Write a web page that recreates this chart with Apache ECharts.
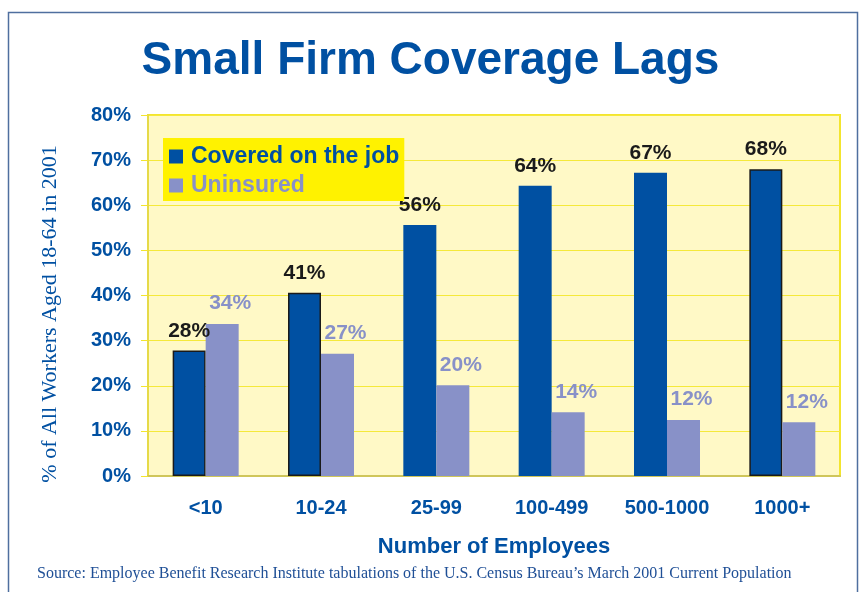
<!DOCTYPE html>
<html>
<head>
<meta charset="utf-8">
<script src="https://cdn.jsdelivr.net/npm/echarts@6/dist/echarts.min.js"></script>
<style>html,body{margin:0;padding:0;background:#fff;}#c{width:861px;height:592px;}</style>
</head>
<body>
<div id="c"></div>
<script>
const categories = ['<10', '10-24', '25-99', '100-499', '500-1000', '1000+'];
const covered = [27.8, 40.6, 55.6, 64.3, 67.2, 68.0];
const uninsured = [33.7, 27.1, 20.1, 14.1, 12.4, 11.9];
const seriesNames = ['Covered on the job', 'Uninsured'];
const yTicks = [0, 10, 20, 30, 40, 50, 60, 70, 80];

const BLUE = '#0050a2';
const LAV = '#8891c8';
const outlined = [0, 1, 5];

const chart = echarts.init(document.getElementById('c'));
chart.setOption({
  backgroundColor: '#ffffff',
  animation: false,
  title: {
    text: 'Small Firm Coverage Lags',
    left: 'center', top: 33,
    textStyle: { fontFamily: 'Arial', fontWeight: 'bold', fontSize: 46, color: BLUE }
  },
  legend: {
    orient: 'vertical', left: 163, top: 138,
    backgroundColor: '#fff200',
    padding: [7, 5, 4, 6], itemGap: 6,
    itemWidth: 14, itemHeight: 14, icon: 'rect',
    textStyle: { fontFamily: 'Arial', fontWeight: 'bold', fontSize: 23, padding: [0, 0, 0, 3] },
    data: [
      { name: seriesNames[0], textStyle: { color: BLUE } },
      { name: seriesNames[1], textStyle: { color: LAV } }
    ]
  },
  grid: {
    left: 148, right: 21, top: 115, bottom: 116,
    show: true, backgroundColor: '#fff9c6', borderColor: '#f3e52e', borderWidth: 2
  },
  xAxis: {
    type: 'category', data: categories,
    axisLine: { lineStyle: { color: '#cfc65a', width: 2 } },
    axisTick: { show: false },
    axisLabel: { color: BLUE, fontFamily: 'Arial', fontWeight: 'bold', fontSize: 20, margin: 22 },
    name: 'Number of Employees', nameLocation: 'middle', nameGap: 60,
    nameTextStyle: { color: BLUE, fontFamily: 'Arial', fontWeight: 'bold', fontSize: 22 }
  },
  yAxis: {
    type: 'value', min: yTicks[0], max: yTicks[yTicks.length - 1], interval: 10,
    axisLine: { show: true, lineStyle: { color: '#e6da48', width: 2 } },
    axisTick: { show: true, length: 7, lineStyle: { color: '#f3e52e' } },
    axisLabel: { formatter: '{value}%', color: BLUE, fontFamily: 'Arial', fontWeight: 'bold', fontSize: 20, margin: 17 },
    splitLine: { lineStyle: { color: '#f5e93a', width: 1 } }
  },
  series: [
    {
      name: seriesNames[0], type: 'bar', barWidth: 33, barGap: '0%',
      itemStyle: { color: BLUE },
      data: covered.map((v, i) => outlined.includes(i)
        ? { value: v, itemStyle: { borderColor: '#1a1a1a', borderWidth: 1.5 } }
        : v),
      label: {
        show: true, position: 'top', distance: 9,
        formatter: p => Math.round(p.value) + '%',
        color: '#1a1a1a', fontFamily: 'Arial', fontWeight: 'bold', fontSize: 21
      }
    },
    {
      name: seriesNames[1], type: 'bar', barWidth: 33,
      itemStyle: { color: LAV },
      data: uninsured,
      label: {
        show: true, position: 'top', distance: 10, offset: [8, 0],
        formatter: p => Math.round(p.value) + '%',
        color: LAV, fontFamily: 'Arial', fontWeight: 'bold', fontSize: 21
      }
    }
  ],
  graphic: [
    {
      type: 'rect', silent: true, z: -1,
      shape: { x: 8.5, y: 12.5, width: 849, height: 600 },
      style: { fill: 'none', stroke: '#4f6f9f', lineWidth: 1.5 }
    },
    {
      type: 'text', x: 50, y: 314, rotation: Math.PI / 2,
      style: {
        text: '% of All Workers Aged 18-64 in 2001',
        fill: BLUE, font: '22px "Liberation Serif", "Times New Roman", serif',
        textAlign: 'center', textVerticalAlign: 'middle'
      }
    },
    {
      type: 'text', x: 37, y: 574,
      style: {
        text: 'Source: Employee Benefit Research Institute tabulations of the U.S. Census Bureau\u2019s March 2001 Current Population',
        fill: '#1f4f96', font: '16px "Liberation Serif", "Times New Roman", serif',
        textVerticalAlign: 'middle'
      }
    }
  ]
});
</script>
</body>
</html>
